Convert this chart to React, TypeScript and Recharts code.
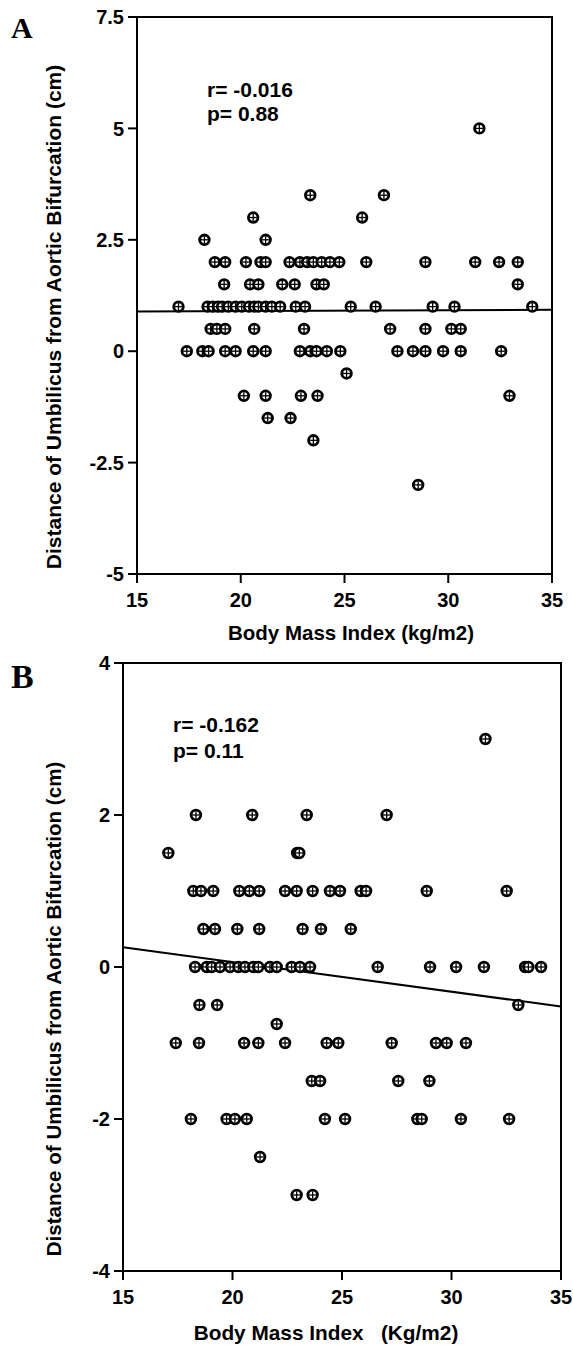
import React from "react";
import {
  ScatterChart,
  Scatter,
  XAxis,
  YAxis,
  ReferenceLine,
  ReferenceArea,
} from "recharts";

// panel A: rows of equal distance, with the BMI of each point in that row
const aDist = [5, 3.5, 3, 2.5, 2, 1.5, 1, 0.5, 0, -0.5, -1, -1.5, -2, -3];
const aBmi = [
  [31.5],
  [23.35, 26.9],
  [20.6, 25.85],
  [18.25, 21.2],
  [18.75, 19.25, 20.25, 20.95, 21.2, 22.35, 22.85, 23.2, 23.5, 23.9, 24.3, 24.75, 26.05, 28.9, 31.3, 32.45, 33.35],
  [19.2, 20.45, 20.85, 22.0, 22.6, 23.65, 24.0, 33.35],
  [17.0, 18.4, 18.65, 18.9, 19.1, 19.4, 19.75, 20.05, 20.4, 20.65, 20.85, 21.2, 21.5, 21.9, 22.65, 23.1, 25.3, 26.5, 29.25, 30.3, 34.05],
  [18.55, 18.85, 19.25, 20.65, 23.05, 27.2, 28.9, 30.15, 30.6],
  [17.4, 18.15, 18.45, 19.25, 19.75, 20.6, 21.2, 22.85, 23.35, 23.65, 24.15, 24.8, 27.55, 28.3, 28.9, 29.75, 30.6, 32.55],
  [25.1],
  [20.15, 21.2, 22.9, 23.7, 32.95],
  [21.3, 22.4],
  [23.5],
  [28.55],
];
const aFit = [0.89, 0.93];
const aYTicks = [-5, -2.5, 0, 2.5, 5, 7.5];

// panel B
const bDist = [3, 2, 1.5, 1, 0.5, 0, -0.5, -0.75, -1, -1.5, -2, -2.5, -3];
const bBmi = [
  [31.55],
  [18.33, 20.9, 23.39, 27.04],
  [17.07, 22.95, 23.05],
  [18.21, 18.56, 19.12, 20.31, 20.77, 21.22, 22.4, 22.93, 23.66, 24.45, 24.91, 25.85, 26.1, 28.87, 32.52],
  [18.67, 19.2, 20.22, 21.22, 23.2, 24.04, 25.4],
  [18.29, 18.82, 19.05, 19.43, 19.89, 20.27, 20.57, 20.95, 21.18, 21.71, 22.02, 22.7, 23.08, 23.54, 26.63, 29.02, 30.21, 31.48, 33.36, 33.51, 34.09],
  [18.49, 19.3, 33.05],
  [22.02],
  [17.41, 18.47, 20.53, 21.18, 22.4, 24.3, 24.83, 27.27, 29.29, 29.78, 30.66],
  [23.62, 24.0, 27.57, 28.99],
  [18.1, 19.73, 20.11, 20.65, 24.22, 25.14, 28.44, 28.64, 30.43, 32.63],
  [21.26],
  [22.93, 23.66],
];
const bFit = [0.26, -0.52];
const bYTicks = [-4, -2, 0, 2, 4];

const bmiTicks = [15, 20, 25, 30, 35];
const bmiRange = [15, 35];

const toPoints = (dist: number[], bmi: number[][]) =>
  dist.flatMap((d, i) => bmi[i].map((b) => ({ x: b, y: d })));

const font = "'Liberation Sans', Arial, Helvetica, sans-serif";
const tickStyle = { fill: "#000", fontSize: 20, fontWeight: 700, fontFamily: font };

const Marker = (props: any) => {
  const { cx, cy } = props;
  if (cx == null || cy == null) return <g />;
  return (
    <g>
      <circle cx={cx} cy={cy} r={4.8} fill="#fff" stroke="#000" strokeWidth={2.8} />
      <line x1={cx - 3.6} y1={cy} x2={cx + 3.6} y2={cy} stroke="#000" strokeWidth={1.3} />
      <line x1={cx} y1={cy - 3.6} x2={cx} y2={cy + 3.6} stroke="#000" strokeWidth={1.3} />
    </g>
  );
};

interface PanelProps {
  top: number;
  height: number;
  margin: { top: number; right: number; bottom: number; left: number };
  yWidth: number;
  yTicks: number[];
  points: { x: number; y: number }[];
  fit: number[];
}

const Panel: React.FC<PanelProps> = ({ top, height, margin, yWidth, yTicks, points, fit }) => {
  const yMin = yTicks[0];
  const yMax = yTicks[yTicks.length - 1];
  return (
    <div style={{ position: "absolute", left: 0, top }}>
      <ScatterChart width={573} height={height} margin={margin}>
        <XAxis
          type="number"
          dataKey="x"
          domain={bmiRange}
          ticks={bmiTicks}
          height={60}
          tick={tickStyle}
          tickSize={9}
          tickMargin={10}
          axisLine={{ stroke: "#000", strokeWidth: 2 }}
          tickLine={{ stroke: "#000", strokeWidth: 2 }}
          allowDataOverflow
        />
        <YAxis
          type="number"
          dataKey="y"
          domain={[yMin, yMax]}
          ticks={yTicks}
          width={yWidth}
          tick={tickStyle}
          tickSize={9}
          tickMargin={4}
          axisLine={{ stroke: "#000", strokeWidth: 2 }}
          tickLine={{ stroke: "#000", strokeWidth: 2 }}
          allowDataOverflow
        />
        <ReferenceArea
          x1={bmiRange[0]}
          x2={bmiRange[1]}
          y1={yMin}
          y2={yMax}
          fill="none"
          fillOpacity={0}
          stroke="#000"
          strokeWidth={2}
        />
        <ReferenceLine
          segment={[
            { x: bmiRange[0], y: fit[0] },
            { x: bmiRange[1], y: fit[1] },
          ]}
          stroke="#000"
          strokeWidth={2}
        />
        <Scatter data={points} shape={Marker} isAnimationActive={false} />
      </ScatterChart>
    </div>
  );
};

const App: React.FC = () => {
  const labelStyle: React.CSSProperties = { fontFamily: font, fontWeight: 700, fill: "#000" };
  const serif = "'Liberation Serif', 'Times New Roman', serif";
  return (
    <div style={{ position: "absolute", left: 0, top: 0, width: 573, height: 1347, background: "#fff" }}>
      <Panel
        top={0}
        height={645}
        margin={{ top: 17, right: 21, bottom: 11, left: 0 }}
        yWidth={137}
        yTicks={aYTicks}
        points={toPoints(aDist, aBmi)}
        fit={aFit}
      />
      <Panel
        top={645}
        height={702}
        margin={{ top: 18, right: 12, bottom: 16, left: 0 }}
        yWidth={123}
        yTicks={bYTicks}
        points={toPoints(bDist, bBmi)}
        fit={bFit}
      />
      <svg
        width={573}
        height={1347}
        style={{ position: "absolute", left: 0, top: 0, pointerEvents: "none" }}
      >
        <text x={11} y={38} style={{ fontFamily: serif, fontWeight: 700, fontSize: 30 }}>
          A
        </text>
        <text x={11} y={688} style={{ fontFamily: serif, fontWeight: 700, fontSize: 34 }}>
          B
        </text>

        <text x={207} y={97} fontSize={21} style={labelStyle}>r= -0.016</text>
        <text x={207} y={121} fontSize={21} style={labelStyle}>p= 0.88</text>
        <text x={173} y={732} fontSize={21} style={labelStyle}>r= -0.162</text>
        <text x={173} y={758} fontSize={21} style={labelStyle}>p= 0.11</text>

        <text
          x={53}
          y={317}
          fontSize={21}
          textAnchor="middle"
          dominantBaseline="central"
          transform="rotate(-90 53 317)"
          style={labelStyle}
        >
          Distance of Umbilicus from Aortic Bifurcation (cm)
        </text>
        <text
          x={53}
          y={1009}
          fontSize={20.6}
          textAnchor="middle"
          dominantBaseline="central"
          transform="rotate(-90 53 1009)"
          style={labelStyle}
        >
          Distance of Umbilicus from Aortic Bifurcation (cm)
        </text>

        <text x={351} y={640} fontSize={20.5} textAnchor="middle" style={labelStyle}>
          Body Mass Index (kg/m2)
        </text>
        <text x={326} y={1340} fontSize={20.8} textAnchor="middle" style={{ ...labelStyle, whiteSpace: "pre" }}>
          Body Mass Index   (Kg/m2)
        </text>
      </svg>
    </div>
  );
};

export default App;
